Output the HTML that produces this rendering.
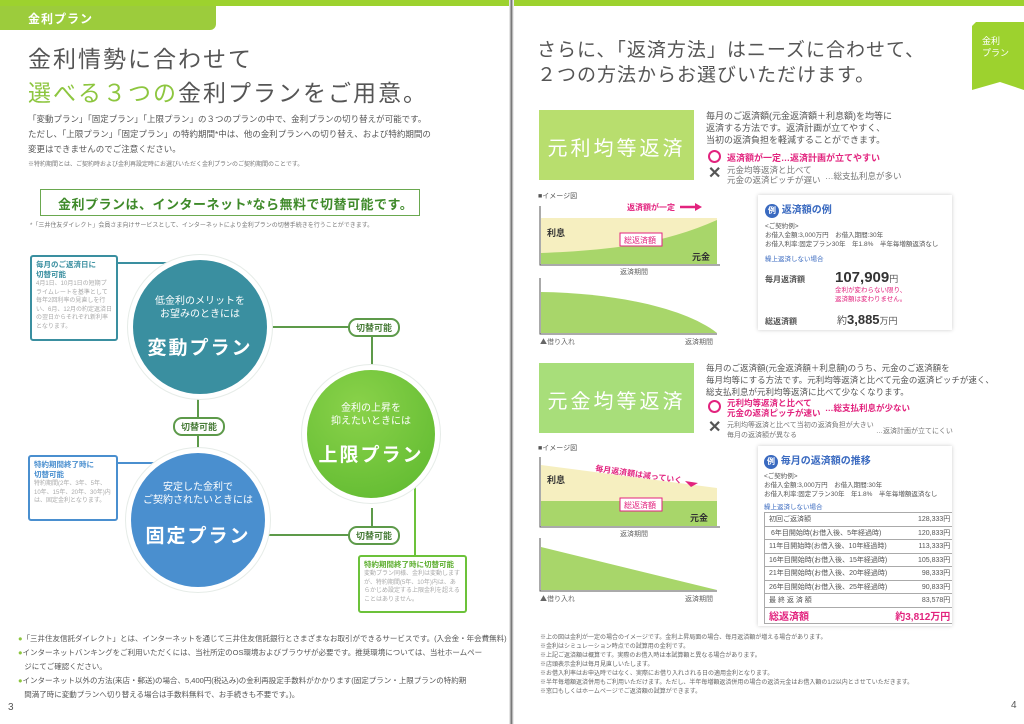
<!DOCTYPE html>
<html><head><meta charset="utf-8">
<style>
*{margin:0;padding:0;box-sizing:border-box}
body{width:1024px;height:724px;overflow:hidden;background:#fff;font-family:"Liberation Sans","Noto Sans CJK JP",sans-serif;color:#555;position:relative}
.a{position:absolute;white-space:nowrap}
.circ{position:absolute;border-radius:50%;color:#fff;text-align:center;box-shadow:0 0 0 5px #fff,0 0 0 6px #e6ece8}
.pill{position:absolute;background:#fff;border:2px solid #5d9a4a;border-radius:9px;font-size:9px;color:#4a7d3a;padding:1px 6px;font-weight:bold}
.ln{position:absolute;background:#5d9a4a}
.note{position:absolute;background:#fff;border:2px solid;border-radius:3px;font-size:6px;line-height:8.5px;padding:3px 4px;color:#aaa;white-space:normal;overflow:hidden}
.note b{font-size:7.5px;display:block;line-height:10px}
.gb{position:absolute;color:#fff;font-size:20px;letter-spacing:3px;text-align:center}
.ex{position:absolute;background:#fff;box-shadow:0 0 4px #ccc;font-size:6.5px;color:#555;white-space:nowrap;overflow:hidden}
td{font-size:7px;padding:0 4px;height:13.5px;border-bottom:1px solid #aaa;color:#555;white-space:nowrap}
</style></head><body>
<div class="a" style="left:0;top:0;width:1024px;height:6px;background:#9dd22e"></div>
<div class="a" style="left:509px;top:0;width:5px;height:724px;background:linear-gradient(90deg,#fff,#bbb,#666,#ccc,#fff)"></div>
<div class="a" style="left:0;top:6px;width:216px;height:24px;background:#9ccc3c;border-bottom-right-radius:6px;color:#fff;font-size:12px;font-weight:bold;padding:4px 0 0 28px;letter-spacing:1px">金利プラン</div>
<div class="a" style="left:28px;top:40px;font-size:23px;letter-spacing:2px;color:#555">金利情勢に合わせて</div>
<div class="a" style="left:28px;top:74px;font-size:23px;letter-spacing:2px;color:#555"><span style="color:#8dc63f">選べる３つの</span>金利プランをご用意。</div>
<div class="a" style="left:28px;top:112px;font-size:8.5px;line-height:15px;color:#555">「変動プラン」「固定プラン」「上限プラン」の３つのプランの中で、金利プランの切り替えが可能です。<br>ただし、「上限プラン」「固定プラン」の特約期間*中は、他の金利プランへの切り替え、および特約期間の<br>変更はできませんのでご注意ください。</div>
<div class="a" style="left:28px;top:159px;font-size:6px;color:#777">※特約期間とは、ご契約時および金利再設定時にお選びいただく金利プランのご契約期間のことです。</div>
<div class="a" style="left:40px;top:189px;width:380px;height:27px;border:1.5px solid #6aa84f;color:#3f8a2a;font-weight:bold;font-size:13px;padding:4px 0 0 17px;letter-spacing:0.5px">金利プランは、インターネット*なら無料で切替可能です。</div>
<div class="a" style="left:30px;top:220px;font-size:6px;color:#777">*「三井住友ダイレクト」会員さま向けサービスとして、インターネットにより金利プランの切替手続きを行うことができます。</div>

<div class="ln" style="left:117px;top:262px;width:90px;height:2px;background:#3a8fa0"></div>
<div class="ln" style="left:117px;top:462px;width:90px;height:2px;background:#4a8fcf"></div>
<div class="ln" style="left:265px;top:326px;width:108px;height:2px"></div>
<div class="ln" style="left:371px;top:326px;width:2px;height:44px"></div>
<div class="ln" style="left:197px;top:398px;width:2px;height:60px"></div>
<div class="ln" style="left:263px;top:534px;width:110px;height:2px"></div>
<div class="ln" style="left:371px;top:508px;width:2px;height:27px"></div>
<div class="ln" style="left:414px;top:485px;width:2px;height:72px;background:#6cc23a"></div>

<div class="circ" style="left:133px;top:260px;width:134px;height:134px;background:#3a8fa0"><div style="font-size:10px;margin-top:35px;line-height:13px">低金利のメリットを<br>お望みのときには</div><div style="font-size:19px;font-weight:bold;margin-top:12px;letter-spacing:2px">変動プラン</div></div>
<div class="circ" style="left:307px;top:370px;width:128px;height:128px;background:radial-gradient(circle at 40% 30%,#8ad24a,#5cb82e)"><div style="font-size:10px;margin-top:32px;line-height:13px">金利の上昇を<br>抑えたいときには</div><div style="font-size:19px;font-weight:bold;margin-top:12px;letter-spacing:2px">上限プラン</div></div>
<div class="circ" style="left:131px;top:453px;width:134px;height:134px;background:#4a8fcf"><div style="font-size:10px;margin-top:28px;line-height:13px">安定した金利で<br>ご契約されたいときには</div><div style="font-size:19px;font-weight:bold;margin-top:14px;letter-spacing:2px">固定プラン</div></div>

<div class="pill" style="left:348px;top:318px">切替可能</div>
<div class="pill" style="left:173px;top:417px">切替可能</div>
<div class="pill" style="left:348px;top:526px">切替可能</div>

<div class="note" style="left:30px;top:255px;width:88px;height:86px;border-color:#3a8fa0"><b style="color:#3a8fa0">毎月のご返済日に<br>切替可能</b>4月1日、10月1日の短期プライムレートを基準として毎年2回利率の見直しを行い、6月、12月の約定返済日の翌日からそれぞれ新利率となります。</div>
<div class="note" style="left:28px;top:455px;width:90px;height:66px;border-color:#4a8fcf"><b style="color:#4a8fcf">特約期間終了時に<br>切替可能</b>特約期間(2年、3年、5年、10年、15年、20年、30年)内は、固定金利となります。</div>
<div class="note" style="left:358px;top:555px;width:109px;height:58px;border-color:#6cc23a"><b style="color:#5cae2e">特約期間終了時に切替可能</b>変動プラン同様、金利は変動しますが、特約期間(5年、10年)内は、あらかじめ設定する上限金利を超えることはありません。</div>

<div class="a" style="left:18px;top:632px;font-size:7.5px;line-height:14px;color:#555"><span style="color:#8dc63f">●</span>「三井住友信託ダイレクト」とは、インターネットを通じて三井住友信託銀行とさまざまなお取引ができるサービスです。(入会金・年会費無料)<br><span style="color:#8dc63f">●</span>インターネットバンキングをご利用いただくには、当社所定のOS環境およびブラウザが必要です。推奨環境については、当社ホームペー<br>&nbsp;&nbsp;&nbsp;ジにてご確認ください。<br><span style="color:#8dc63f">●</span>インターネット以外の方法(来店・郵送)の場合、5,400円(税込み)の金利再設定手数料がかかります(固定プラン・上限プランの特約期<br>&nbsp;&nbsp;&nbsp;間満了時に変動プランへ切り替える場合は手数料無料で、お手続きも不要です。)。</div>
<div class="a" style="left:8px;top:702px;font-size:10px">3</div>

<!-- right page -->
<div class="a" style="left:537px;top:38px;font-size:19px;line-height:25px;letter-spacing:1px;color:#555">さらに、「返済方法」はニーズに合わせて、<br>２つの方法からお選びいただけます。</div>
<svg class="a" style="left:972px;top:22px" width="52" height="68"><polygon points="4,0 52,0 52,68 28,60 0,68 0,4" fill="#9dd22e"/><text x="10" y="22" font-size="9" fill="#fff" font-family="Noto Sans CJK JP">金利</text><text x="10" y="34" font-size="9" fill="#fff" font-family="Noto Sans CJK JP">プラン</text></svg>

<div class="gb" style="left:539px;top:110px;width:155px;height:70px;background:#b8de6e;padding-top:22px">元利均等返済</div>
<div class="a" style="left:706px;top:110px;font-size:9px;line-height:12px">毎月のご返済額(元金返済額＋利息額)を均等に<br>返済する方法です。返済計画が立てやすく、<br>当初の返済負担を軽減することができます。</div>
<div class="a" style="left:708px;top:150px;width:13px;height:13px;border:2.5px solid #e2237e;border-radius:50%"></div>
<div class="a" style="left:727px;top:151px;font-size:9px;color:#e2237e;font-weight:bold">返済額が一定…返済計画が立てやすい</div>
<div class="a" style="left:708px;top:163px;font-size:16px;color:#555;font-weight:bold">✕</div>
<div class="a" style="left:727px;top:165px;font-size:8.5px;line-height:10px;color:#777">元金均等返済と比べて<br>元金の返済ピッチが遅い</div>
<div class="a" style="left:825px;top:170px;font-size:8.5px;color:#777">…総支払利息が多い</div>

<div class="a" style="left:538px;top:191px;font-size:7px">■イメージ図</div>
<svg class="a" style="left:535px;top:198px" width="210" height="150" font-family="Noto Sans CJK JP">
<path d="M5,8 V67 H185" stroke="#555" fill="none"/>
<path d="M6,20 H182 V66 H6Z" fill="#f6efc0"/>
<path d="M6,55 C80,52 130,45 182,22 V66 H6Z" fill="#a8d66a"/>
<text x="12" y="38" font-size="9" fill="#333" font-weight="bold">利息</text>
<rect x="85" y="35" width="42" height="13" fill="#fff" stroke="#e2237e"/><text x="89" y="45" font-size="8" fill="#e2237e">総返済額</text>
<text x="157" y="62" font-size="9" fill="#333" font-weight="bold">元金</text>
<text x="92" y="12" font-size="8" fill="#e2237e" font-weight="bold">返済額が一定</text><path d="M145,9 H160" stroke="#e2237e" stroke-width="2.5"/><polygon points="160,5 167,9 160,13" fill="#e2237e"/>
<text x="-4" y="18" font-size="7" fill="#666" writing-mode="tb">毎月の返済額</text>
<text x="85" y="76" font-size="7" fill="#666">返済期間</text>
<path d="M5,80 V136 H182" stroke="#555" fill="none"/>
<path d="M6,94 C80,95 150,110 182,135 H6Z" fill="#a8d66a"/>
<text x="-4" y="88" font-size="7" fill="#666" writing-mode="tb">借入残高</text>
<text x="5" y="146" font-size="7" fill="#666">▲借り入れ</text><text x="150" y="146" font-size="7" fill="#666">返済期間</text>
</svg>

<div class="ex" style="left:758px;top:195px;width:194px;height:135px;padding:6px 7px">
<div style="font-size:10px;color:#3a6ac0;font-weight:bold"><span style="display:inline-block;width:14px;height:14px;border-radius:50%;background:#3a6ac0;color:#fff;text-align:center;font-size:8px;line-height:14px">例</span> 返済額の例</div>
<div style="margin-top:4px;line-height:9px">&lt;ご契約例&gt;<br>お借入金額:3,000万円　お借入期間:30年<br>お借入利率:固定プラン30年　年1.8%　半年毎増額返済なし</div>
<div style="color:#3a6ac0;margin-top:4px">繰上返済しない場合</div>
<div style="margin-top:6px"><b style="font-size:8px">毎月返済額</b><span style="font-size:15px;font-weight:bold;margin-left:30px;color:#333">107,909</span><span style="font-size:9px">円</span></div>
<div style="color:#e2237e;margin-left:70px;line-height:9px">金利が変わらない限り、<br>返済額は変わりません。</div>
<div style="margin-top:8px"><b style="font-size:8px">総返済額</b><span style="font-size:10px;margin-left:40px">約</span><span style="font-size:13px;font-weight:bold;color:#333">3,885</span><span style="font-size:9px">万円</span></div>
</div>

<div class="gb" style="left:539px;top:363px;width:155px;height:70px;background:#a8de7a;padding-top:22px">元金均等返済</div>
<div class="a" style="left:706px;top:362px;font-size:8.5px;line-height:12px">毎月のご返済額(元金返済額＋利息額)のうち、元金のご返済額を<br>毎月均等にする方法です。元利均等返済と比べて元金の返済ピッチが速く、<br>総支払利息が元利均等返済に比べて少なくなります。</div>
<div class="a" style="left:708px;top:400px;width:13px;height:13px;border:2.5px solid #e2237e;border-radius:50%"></div>
<div class="a" style="left:727px;top:398px;font-size:8.5px;line-height:10px;color:#e2237e;font-weight:bold">元利均等返済と比べて<br>元金の返済ピッチが速い</div>
<div class="a" style="left:825px;top:402px;font-size:8.5px;color:#e2237e;font-weight:bold">…総支払利息が少ない</div>
<div class="a" style="left:708px;top:417px;font-size:16px;color:#555;font-weight:bold">✕</div>
<div class="a" style="left:727px;top:421px;font-size:7px;line-height:10px;color:#777">元利均等返済と比べて当初の返済負担が大きい<br>毎月の返済額が異なる</div>
<div class="a" style="left:876px;top:426px;font-size:7px;color:#777">…返済計画が立てにくい</div>

<div class="a" style="left:538px;top:443px;font-size:7px">■イメージ図</div>
<svg class="a" style="left:535px;top:455px" width="210" height="150" font-family="Noto Sans CJK JP">
<path d="M5,2 V72 H185" stroke="#555" fill="none"/>
<path d="M6,10 L182,33 V71 H6Z" fill="#f6efc0"/>
<path d="M6,46 H182 V71 H6Z" fill="#a8d66a"/>
<text x="12" y="28" font-size="9" fill="#333" font-weight="bold">利息</text>
<rect x="85" y="43" width="42" height="13" fill="#fff" stroke="#e2237e"/><text x="89" y="53" font-size="8" fill="#e2237e">総返済額</text>
<text x="155" y="66" font-size="9" fill="#333" font-weight="bold">元金</text>
<text x="60" y="16" font-size="8" fill="#e2237e" font-weight="bold" transform="rotate(8 60 16)">毎月返済額は減っていく</text><polygon points="150,26 163,28 156,32" fill="#e2237e"/>
<text x="-4" y="12" font-size="7" fill="#666" writing-mode="tb">毎月の返済額</text>
<text x="85" y="81" font-size="7" fill="#666">返済期間</text>
<path d="M5,83 V136 H182" stroke="#555" fill="none"/>
<path d="M6,92 L182,135 H6Z" fill="#a8d66a"/>
<text x="-4" y="88" font-size="7" fill="#666" writing-mode="tb">借入残高</text>
<text x="5" y="146" font-size="7" fill="#666">▲借り入れ</text><text x="150" y="146" font-size="7" fill="#666">返済期間</text>
</svg>

<div class="ex" style="left:758px;top:446px;width:194px;height:180px;padding:6px 6px">
<div style="font-size:10px;color:#3a6ac0;font-weight:bold"><span style="display:inline-block;width:14px;height:14px;border-radius:50%;background:#3a6ac0;color:#fff;text-align:center;font-size:8px;line-height:14px">例</span> 毎月の返済額の推移</div>
<div style="margin-top:3px;line-height:9px">&lt;ご契約例&gt;<br>お借入金額:3,000万円　お借入期間:30年<br>お借入利率:固定プラン30年　年1.8%　半年毎増額返済なし</div>
<div style="color:#3a6ac0;margin-top:2px">繰上返済しない場合</div>
<table style="border-collapse:collapse;border:1px solid #aaa;width:100%;margin-top:1px">
<tr><td>初回ご返済額</td><td align="right">128,333円</td></tr>
<tr><td>&nbsp;6年目開始時(お借入後、5年経過時)</td><td align="right">120,833円</td></tr>
<tr><td>11年目開始時(お借入後、10年経過時)</td><td align="right">113,333円</td></tr>
<tr><td>16年目開始時(お借入後、15年経過時)</td><td align="right">105,833円</td></tr>
<tr><td>21年目開始時(お借入後、20年経過時)</td><td align="right">98,333円</td></tr>
<tr><td>26年目開始時(お借入後、25年経過時)</td><td align="right">90,833円</td></tr>
<tr><td>最 終 返 済 額</td><td align="right">83,578円</td></tr>
<tr><td style="color:#e2237e;font-size:10px;font-weight:bold">総返済額</td><td align="right" style="color:#e2237e;font-size:10px;font-weight:bold">約3,812万円</td></tr>
</table></div>

<div class="a" style="left:540px;top:634px;font-size:6px;line-height:9px;color:#666">※上の図は金利が一定の場合のイメージです。金利上昇局面の場合、毎月返済額が増える場合があります。<br>※金利はシミュレーション時点での試算用の金利です。<br>※上記ご返済額は概算です。実際のお借入時は本試算額と異なる場合があります。<br>※店頭表示金利は毎月見直しいたします。<br>※お借入利率はお申込時ではなく、実際にお借り入れされる日の適用金利となります。<br>※半年毎増額返済併用もご利用いただけます。ただし、半年毎増額返済併用の場合の返済元金はお借入額の1/2以内とさせていただきます。<br>※窓口もしくはホームページでご返済額の試算ができます。</div>
<div class="a" style="left:1011px;top:700px;font-size:10px">4</div>
</body></html>
